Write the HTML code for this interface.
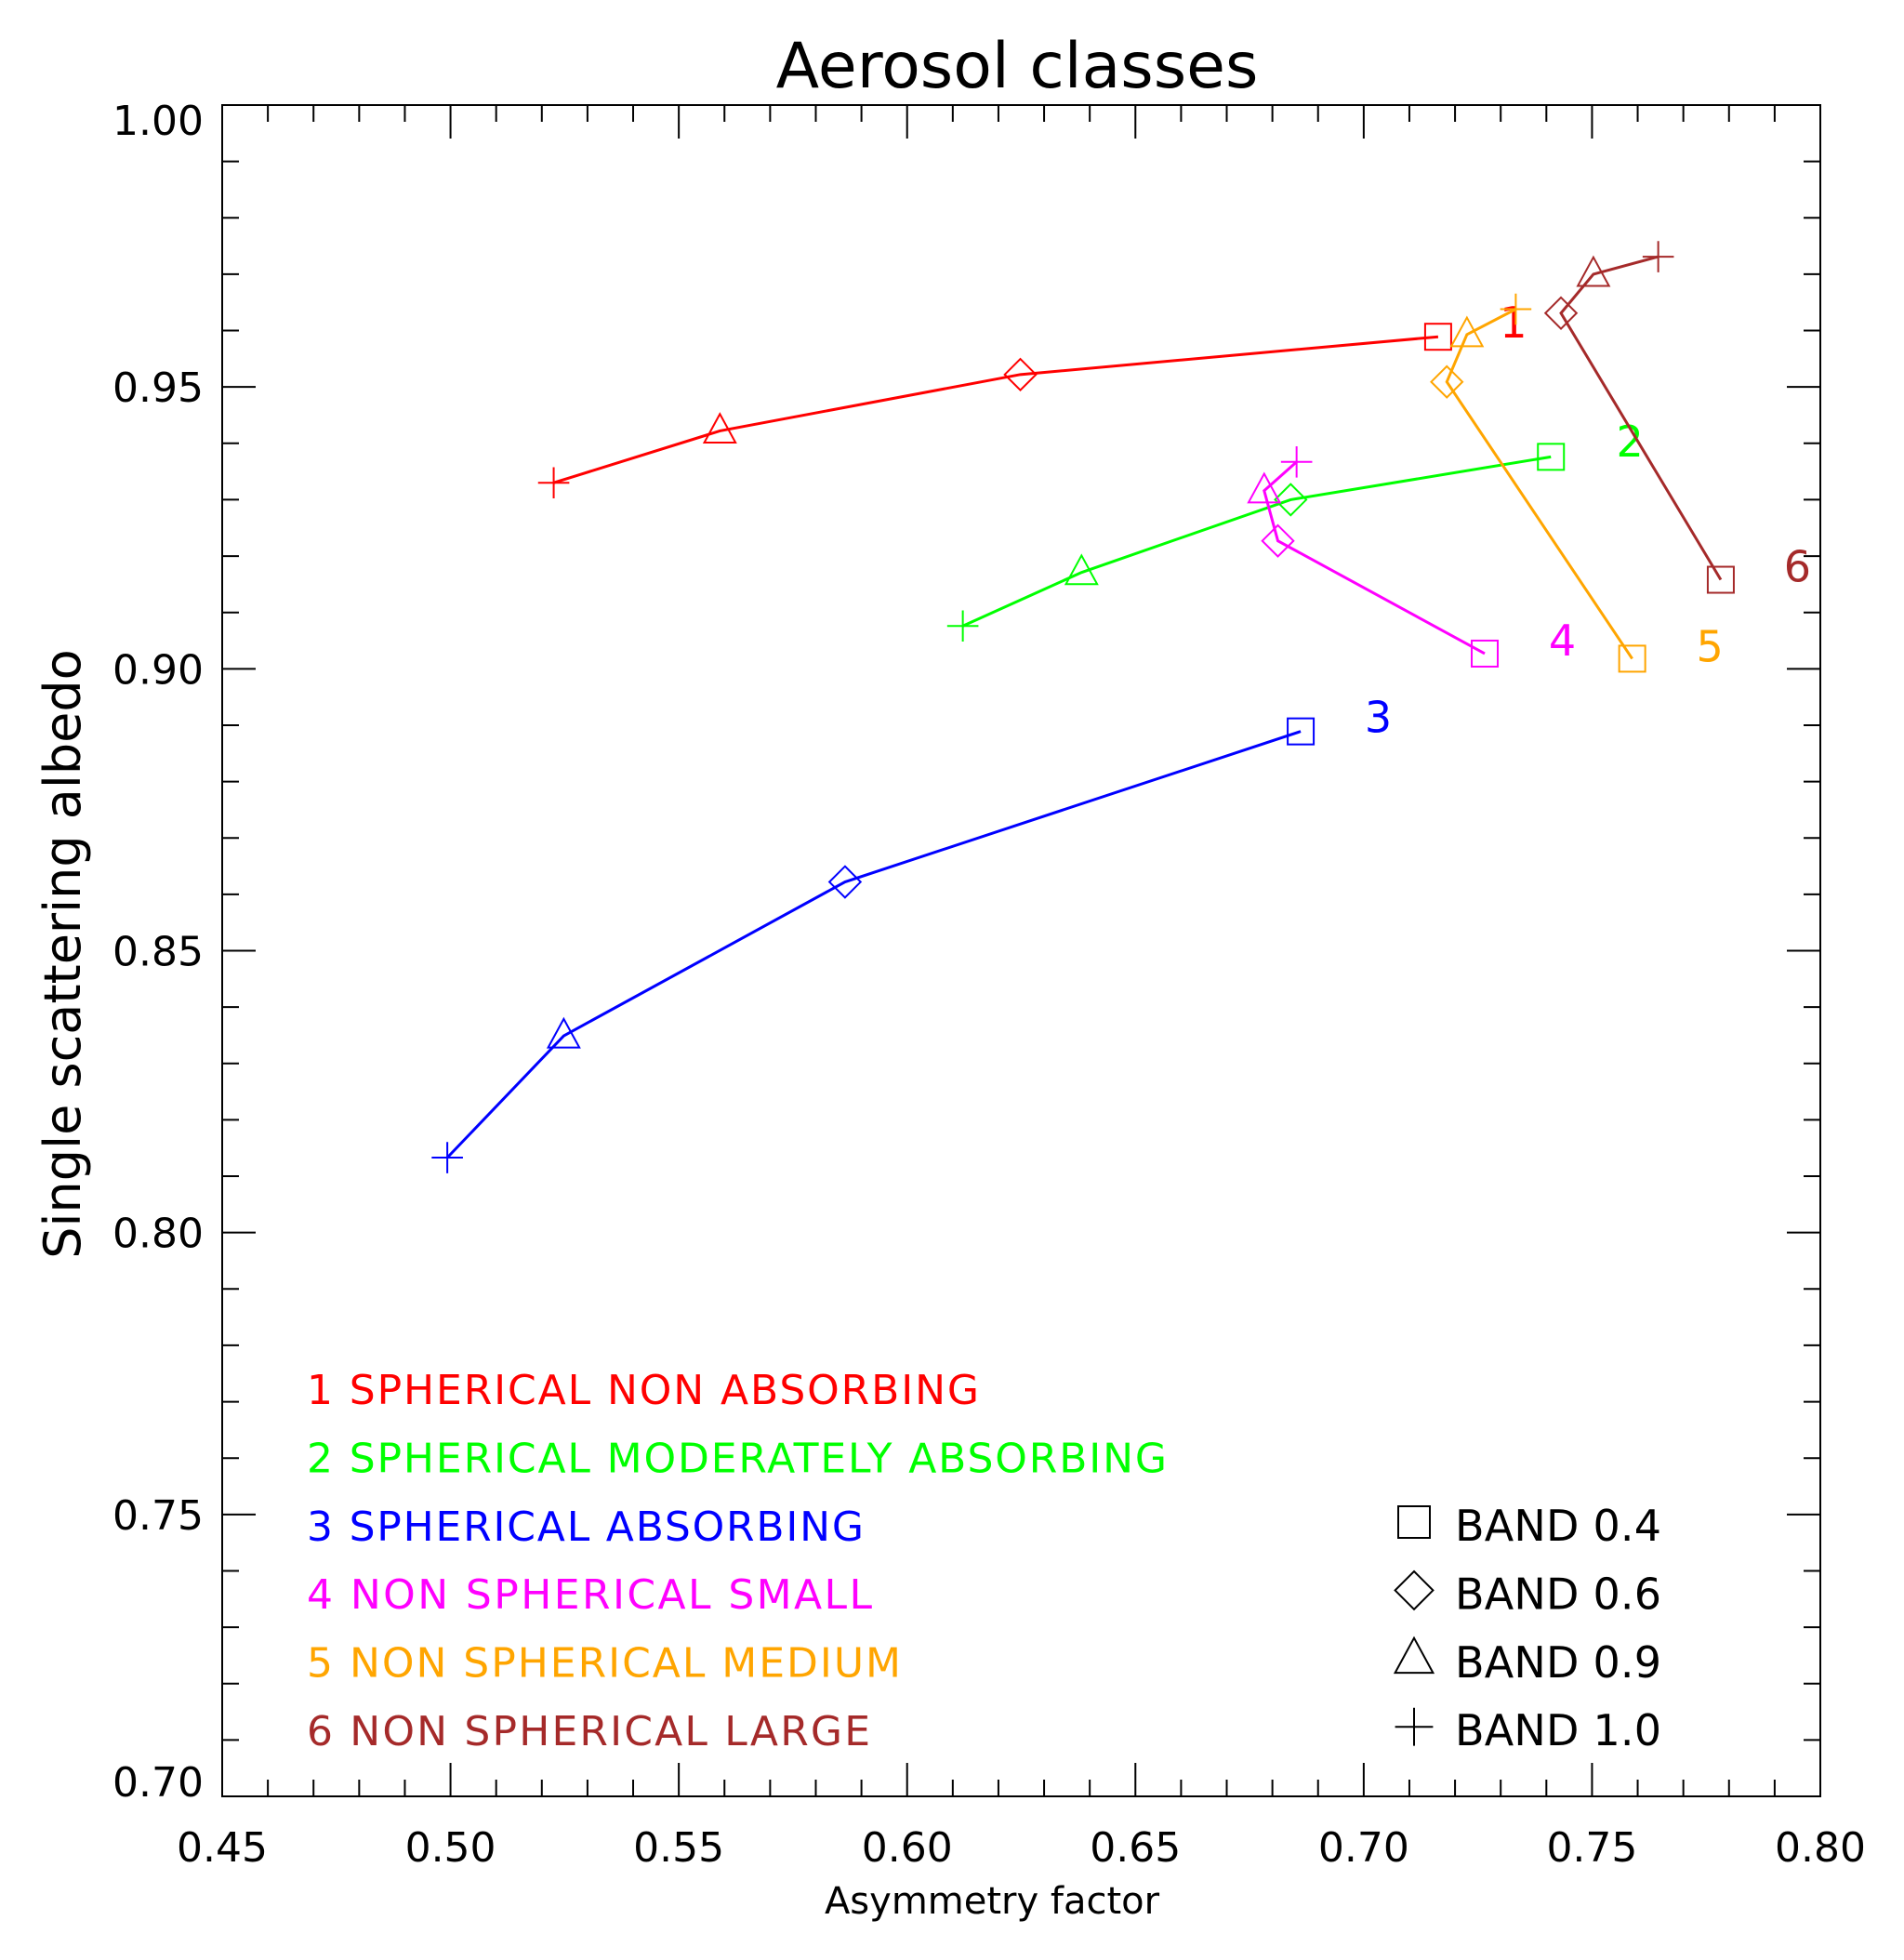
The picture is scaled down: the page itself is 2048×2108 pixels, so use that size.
<!DOCTYPE html>
<html><head><meta charset="utf-8"><style>
html,body{margin:0;padding:0;background:#fff}
svg{display:block}
text{font-family:"DejaVu Sans","Liberation Sans",sans-serif}
</style></head>
<body>
<svg id="chart" width="2048" height="2108" viewBox="0 0 2048 2108" xmlns="http://www.w3.org/2000/svg">
<rect width="2048" height="2108" fill="#fff"/>
<text x="1094" y="94" font-size="68" text-anchor="middle" font-family="Liberation Sans, sans-serif">Aerosol classes</text>
<text x="1067" y="2058" font-size="40" text-anchor="middle">Asymmetry factor</text>
<text x="0" y="0" font-size="54" text-anchor="middle" transform="translate(86,1026) rotate(-90)">Single scattering albedo</text>
<g id="axes"></g>
<g id="series"></g>
<g id="legend"></g>
</svg>
<script>
const xTicks=[0.45,0.50,0.55,0.60,0.65,0.70,0.75,0.80];
const yTicks=[0.70,0.75,0.80,0.85,0.90,0.95,1.00];
const seriesNames=["1 SPHERICAL NON ABSORBING","2 SPHERICAL MODERATELY ABSORBING","3 SPHERICAL ABSORBING","4 NON SPHERICAL SMALL","5 NON SPHERICAL MEDIUM","6 NON SPHERICAL LARGE"];
const seriesColors=["#ff0000","#00ff00","#0000ff","#ff00ff","#ffa500","#a52a2a"];
const bandNames=["BAND 0.4","BAND 0.6","BAND 0.9","BAND 1.0"];
// order: band 0.4 (square), 0.6 (diamond), 0.9 (triangle), 1.0 (plus)
const gX1=[0.7163,0.6248,0.559,0.5226];
const gY1=[0.9589,0.9522,0.9422,0.933];
const gX2=[0.741,0.684,0.6382,0.6122];
const gY2=[0.9376,0.930,0.9171,0.9076];
const gX3=[0.6862,0.5864,0.5248,0.4993];
const gY3=[0.8889,0.8622,0.8349,0.8133];
const gX4=[0.7265,0.6812,0.6782,0.6853];
const gY4=[0.9027,0.9227,0.9316,0.9367];
const gX5=[0.7588,0.7182,0.7226,0.7333];
const gY5=[0.9018,0.9509,0.9593,0.9638];
const gX6=[0.7782,0.7432,0.7503,0.7645];
const gY6=[0.9158,0.9631,0.970,0.9731];
const labelX=[0.7328,0.7583,0.7032,0.7435,0.7758,0.795];
const labelY=[0.9616,0.9405,0.8916,0.9052,0.9041,0.9183];
const legendWidths=[723,925,599,608,639,606];

const L=239,R=1958,T=113,B=1932,X0=0.45,X1=0.80,Y0=0.70,Y1=1.00;
const sx=v=>L+(v-X0)/(X1-X0)*(R-L);
const sy=v=>B-(v-Y0)/(Y1-Y0)*(B-T);
const NS="http://www.w3.org/2000/svg";
function mk(tag,attrs,parent){const e=document.createElementNS(NS,tag);for(const k in attrs)e.setAttribute(k,attrs[k]);parent.appendChild(e);return e;}
const axes=document.getElementById('axes');
const frame=mk('rect',{x:L,y:T,width:R-L,height:B-T,fill:'none',stroke:'#000','stroke-width':2},axes);


for(let i=0;i<=35;i++){
  const v=X0+i*0.01, x=sx(v), len=(i%5===0)?36:18;
  const t1=mk('line',{x1:x,y1:B,x2:x,y2:B-len,stroke:'#000','stroke-width':2},axes);
  
  
  const t2=mk('line',{x1:x,y1:T,x2:x,y2:T+len,stroke:'#000','stroke-width':2},axes);
  
  
}
for(let i=0;i<=30;i++){
  const v=Y0+i*0.01, y=sy(v), len=(i%5===0)?36:18;
  const t1=mk('line',{x1:L,y1:y,x2:L+len,y2:y,stroke:'#000','stroke-width':2},axes);
  
  
  const t2=mk('line',{x1:R,y1:y,x2:R-len,y2:y,stroke:'#000','stroke-width':2},axes);
  
  
}
xTicks.forEach(v=>{
  const t=mk('text',{x:sx(v),y:2002,'font-size':44,'text-anchor':'middle'},axes);
  t.textContent=v.toFixed(2);
  
  
});
yTicks.forEach((v,i)=>{
  let off=16;
  if(i===yTicks.length-1) off=32;
  if(i===0) off=0;
  const t=mk('text',{x:219,y:sy(v)+off,'font-size':44,'text-anchor':'end'},axes);
  t.textContent=v.toFixed(2);
  
  
});
function marker(kind,x,y,color,parent,s){
  let e;
  if(kind===0) e=mk('rect',{x:x-s,y:y-s,width:2*s,height:2*s,fill:'none',stroke:color,'stroke-width':2},parent);
  else if(kind===1) e=mk('polygon',{points:`${x},${y-s*1.2} ${x+s*1.2},${y} ${x},${y+s*1.2} ${x-s*1.2},${y}`,fill:'none',stroke:color,'stroke-width':2},parent);
  else if(kind===2) e=mk('polygon',{points:`${x},${y-s*1.3} ${x+s*1.2},${y+s*0.9} ${x-s*1.2},${y+s*0.9}`,fill:'none',stroke:color,'stroke-width':2},parent);
  else e=mk('path',{d:`M${x-s*1.2},${y}H${x+s*1.2}M${x},${y-s*1.2}V${y+s*1.2}`,fill:'none',stroke:color,'stroke-width':2},parent);
  return e;
}
const sg=document.getElementById('series');
const XS=[gX1,gX2,gX3,gX4,gX5,gX6], YS=[gY1,gY2,gY3,gY4,gY5,gY6];
const markerNames=['marker-band-0-4','marker-band-0-6','marker-band-0-9','marker-band-1-0'];
XS.forEach((xs,si)=>{
  const c=seriesColors[si];
  const g=mk('g',{},sg);
  
  
  const pts=xs.map((v,i)=>sx(v)+','+sy(YS[si][i])).join(' ');
  const pl=mk('polyline',{points:pts,fill:'none',stroke:c,'stroke-width':3},g);
  
  
  xs.forEach((v,i)=>{
    const m=marker(i,sx(v),sy(YS[si][i]),c,g,14);
    
    
  });
  const lb=mk('text',{x:sx(labelX[si]),y:sy(labelY[si])+17,'font-size':46,'text-anchor':'middle',fill:c},g);
  lb.textContent=String(si+1);
  
  
});
const lg=document.getElementById('legend');
seriesNames.forEach((n,i)=>{
  const t=mk('text',{x:330,y:1510+i*73.4,'font-size':44,fill:seriesColors[i],textLength:legendWidths[i],lengthAdjust:'spacing'},lg);
  t.textContent=n;
  
  
});
bandNames.forEach((n,i)=>{
  const y=1657+i*73.4;
  const m=marker(i,1521,y-20,'#000',lg,17);
  
  
  const t=mk('text',{x:1565,y:y,'font-size':46,textLength:222,lengthAdjust:'spacing'},lg);
  t.textContent=n;
  
  
});
</script>
</body></html>
